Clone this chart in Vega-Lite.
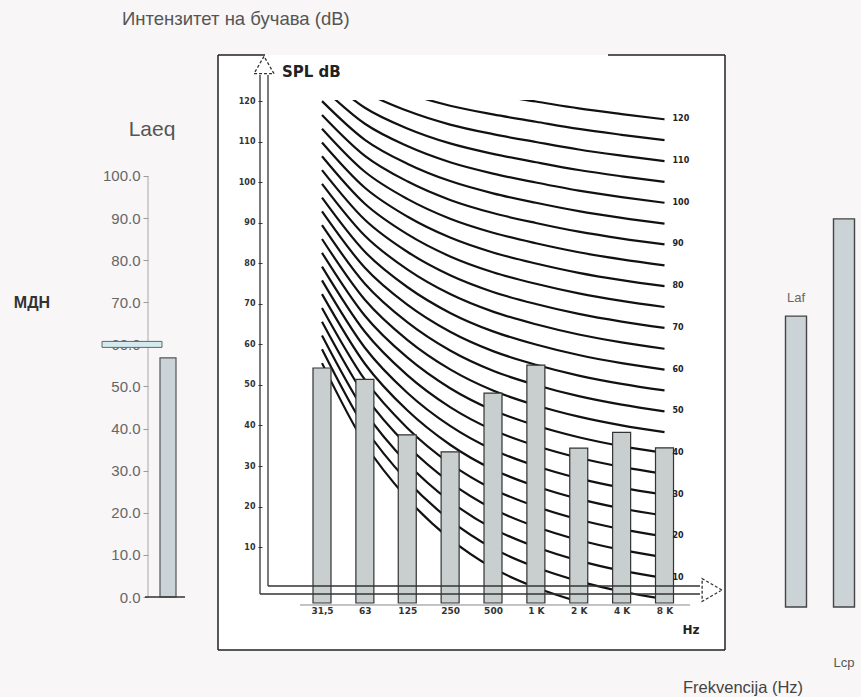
{
"$schema": "https://vega.github.io/schema/vega-lite/v6.json",
"background": "#f8f6f7",
"padding": {"left": 13, "top": 9, "right": 0, "bottom": 0},
"config": {"view": {"stroke": null}, "font": "Liberation Sans", "axis": {"grid": false}},
"spacing": 40,
"bounds": "flush",
"datasets": {
"laeq": [{"metric": "Laeq", "value": 56.8}],
"lc": [{"metric": "Laf", "value": 69.1}, {"metric": "Lcp", "value": 92.2}],
"bars": [{"band":"31,5","hz":31.5,"spl":54.2},{"band":"63","hz":63,"spl":51.4},{"band":"125","hz":125,"spl":37.7},{"band":"250","hz":250,"spl":33.5},{"band":"500","hz":500,"spl":48},{"band":"1 K","hz":1000,"spl":54.9},{"band":"2 K","hz":2000,"spl":34.4},{"band":"4 K","hz":4000,"spl":38.3},{"band":"8 K","hz":8000,"spl":34.5}],
"nr": [
{"nr":0,"hz":31.5,"db":55.4},{"nr":0,"hz":63,"db":35.5},{"nr":0,"hz":125,"db":22},{"nr":0,"hz":250,"db":12},{"nr":0,"hz":500,"db":4.8},{"nr":0,"hz":1000,"db":0},{"nr":0,"hz":2000,"db":-3.5},{"nr":0,"hz":4000,"db":-6.1},{"nr":0,"hz":8000,"db":-8},
{"nr":5,"hz":31.5,"db":58.81},{"nr":5,"hz":63,"db":39.45},{"nr":5,"hz":125,"db":26.35},{"nr":5,"hz":250,"db":16.65},{"nr":5,"hz":500,"db":9.67},{"nr":5,"hz":1000,"db":5},{"nr":5,"hz":2000,"db":1.58},{"nr":5,"hz":4000,"db":-0.98},{"nr":5,"hz":8000,"db":-2.85},
{"nr":10,"hz":31.5,"db":62.21},{"nr":10,"hz":63,"db":43.4},{"nr":10,"hz":125,"db":30.7},{"nr":10,"hz":250,"db":21.3},{"nr":10,"hz":500,"db":14.54},{"nr":10,"hz":1000,"db":10},{"nr":10,"hz":2000,"db":6.65},{"nr":10,"hz":4000,"db":4.15},{"nr":10,"hz":8000,"db":2.3},
{"nr":15,"hz":31.5,"db":65.62},{"nr":15,"hz":63,"db":47.35},{"nr":15,"hz":125,"db":35.05},{"nr":15,"hz":250,"db":25.95},{"nr":15,"hz":500,"db":19.41},{"nr":15,"hz":1000,"db":15},{"nr":15,"hz":2000,"db":11.73},{"nr":15,"hz":4000,"db":9.28},{"nr":15,"hz":8000,"db":7.45},
{"nr":20,"hz":31.5,"db":69.02},{"nr":20,"hz":63,"db":51.3},{"nr":20,"hz":125,"db":39.4},{"nr":20,"hz":250,"db":30.6},{"nr":20,"hz":500,"db":24.28},{"nr":20,"hz":1000,"db":20},{"nr":20,"hz":2000,"db":16.8},{"nr":20,"hz":4000,"db":14.4},{"nr":20,"hz":8000,"db":12.6},
{"nr":25,"hz":31.5,"db":72.43},{"nr":25,"hz":63,"db":55.25},{"nr":25,"hz":125,"db":43.75},{"nr":25,"hz":250,"db":35.25},{"nr":25,"hz":500,"db":29.15},{"nr":25,"hz":1000,"db":25},{"nr":25,"hz":2000,"db":21.88},{"nr":25,"hz":4000,"db":19.53},{"nr":25,"hz":8000,"db":17.75},
{"nr":30,"hz":31.5,"db":75.83},{"nr":30,"hz":63,"db":59.2},{"nr":30,"hz":125,"db":48.1},{"nr":30,"hz":250,"db":39.9},{"nr":30,"hz":500,"db":34.02},{"nr":30,"hz":1000,"db":30},{"nr":30,"hz":2000,"db":26.95},{"nr":30,"hz":4000,"db":24.65},{"nr":30,"hz":8000,"db":22.9},
{"nr":35,"hz":31.5,"db":79.24},{"nr":35,"hz":63,"db":63.15},{"nr":35,"hz":125,"db":52.45},{"nr":35,"hz":250,"db":44.55},{"nr":35,"hz":500,"db":38.89},{"nr":35,"hz":1000,"db":35},{"nr":35,"hz":2000,"db":32.03},{"nr":35,"hz":4000,"db":29.78},{"nr":35,"hz":8000,"db":28.05},
{"nr":40,"hz":31.5,"db":82.64},{"nr":40,"hz":63,"db":67.1},{"nr":40,"hz":125,"db":56.8},{"nr":40,"hz":250,"db":49.2},{"nr":40,"hz":500,"db":43.76},{"nr":40,"hz":1000,"db":40},{"nr":40,"hz":2000,"db":37.1},{"nr":40,"hz":4000,"db":34.9},{"nr":40,"hz":8000,"db":33.2},
{"nr":45,"hz":31.5,"db":86.05},{"nr":45,"hz":63,"db":71.05},{"nr":45,"hz":125,"db":61.15},{"nr":45,"hz":250,"db":53.85},{"nr":45,"hz":500,"db":48.63},{"nr":45,"hz":1000,"db":45},{"nr":45,"hz":2000,"db":42.18},{"nr":45,"hz":4000,"db":40.03},{"nr":45,"hz":8000,"db":38.35},
{"nr":50,"hz":31.5,"db":89.45},{"nr":50,"hz":63,"db":75},{"nr":50,"hz":125,"db":65.5},{"nr":50,"hz":250,"db":58.5},{"nr":50,"hz":500,"db":53.5},{"nr":50,"hz":1000,"db":50},{"nr":50,"hz":2000,"db":47.25},{"nr":50,"hz":4000,"db":45.15},{"nr":50,"hz":8000,"db":43.5},
{"nr":55,"hz":31.5,"db":92.86},{"nr":55,"hz":63,"db":78.95},{"nr":55,"hz":125,"db":69.85},{"nr":55,"hz":250,"db":63.15},{"nr":55,"hz":500,"db":58.37},{"nr":55,"hz":1000,"db":55},{"nr":55,"hz":2000,"db":52.33},{"nr":55,"hz":4000,"db":50.28},{"nr":55,"hz":8000,"db":48.65},
{"nr":60,"hz":31.5,"db":96.26},{"nr":60,"hz":63,"db":82.9},{"nr":60,"hz":125,"db":74.2},{"nr":60,"hz":250,"db":67.8},{"nr":60,"hz":500,"db":63.24},{"nr":60,"hz":1000,"db":60},{"nr":60,"hz":2000,"db":57.4},{"nr":60,"hz":4000,"db":55.4},{"nr":60,"hz":8000,"db":53.8},
{"nr":65,"hz":31.5,"db":99.67},{"nr":65,"hz":63,"db":86.85},{"nr":65,"hz":125,"db":78.55},{"nr":65,"hz":250,"db":72.45},{"nr":65,"hz":500,"db":68.11},{"nr":65,"hz":1000,"db":65},{"nr":65,"hz":2000,"db":62.48},{"nr":65,"hz":4000,"db":60.53},{"nr":65,"hz":8000,"db":58.95},
{"nr":70,"hz":31.5,"db":103.07},{"nr":70,"hz":63,"db":90.8},{"nr":70,"hz":125,"db":82.9},{"nr":70,"hz":250,"db":77.1},{"nr":70,"hz":500,"db":72.98},{"nr":70,"hz":1000,"db":70},{"nr":70,"hz":2000,"db":67.55},{"nr":70,"hz":4000,"db":65.65},{"nr":70,"hz":8000,"db":64.1},
{"nr":75,"hz":31.5,"db":106.48},{"nr":75,"hz":63,"db":94.75},{"nr":75,"hz":125,"db":87.25},{"nr":75,"hz":250,"db":81.75},{"nr":75,"hz":500,"db":77.85},{"nr":75,"hz":1000,"db":75},{"nr":75,"hz":2000,"db":72.63},{"nr":75,"hz":4000,"db":70.78},{"nr":75,"hz":8000,"db":69.25},
{"nr":80,"hz":31.5,"db":109.88},{"nr":80,"hz":63,"db":98.7},{"nr":80,"hz":125,"db":91.6},{"nr":80,"hz":250,"db":86.4},{"nr":80,"hz":500,"db":82.72},{"nr":80,"hz":1000,"db":80},{"nr":80,"hz":2000,"db":77.7},{"nr":80,"hz":4000,"db":75.9},{"nr":80,"hz":8000,"db":74.4},
{"nr":85,"hz":31.5,"db":113.29},{"nr":85,"hz":63,"db":102.65},{"nr":85,"hz":125,"db":95.95},{"nr":85,"hz":250,"db":91.05},{"nr":85,"hz":500,"db":87.59},{"nr":85,"hz":1000,"db":85},{"nr":85,"hz":2000,"db":82.78},{"nr":85,"hz":4000,"db":81.03},{"nr":85,"hz":8000,"db":79.55},
{"nr":90,"hz":31.5,"db":116.69},{"nr":90,"hz":63,"db":106.6},{"nr":90,"hz":125,"db":100.3},{"nr":90,"hz":250,"db":95.7},{"nr":90,"hz":500,"db":92.46},{"nr":90,"hz":1000,"db":90},{"nr":90,"hz":2000,"db":87.85},{"nr":90,"hz":4000,"db":86.15},{"nr":90,"hz":8000,"db":84.7},
{"nr":95,"hz":31.5,"db":120.1},{"nr":95,"hz":63,"db":110.55},{"nr":95,"hz":125,"db":104.65},{"nr":95,"hz":250,"db":100.35},{"nr":95,"hz":500,"db":97.33},{"nr":95,"hz":1000,"db":95},{"nr":95,"hz":2000,"db":92.93},{"nr":95,"hz":4000,"db":91.28},{"nr":95,"hz":8000,"db":89.85},
{"nr":100,"hz":31.5,"db":123.5},{"nr":100,"hz":63,"db":114.5},{"nr":100,"hz":125,"db":109},{"nr":100,"hz":250,"db":105},{"nr":100,"hz":500,"db":102.2},{"nr":100,"hz":1000,"db":100},{"nr":100,"hz":2000,"db":98},{"nr":100,"hz":4000,"db":96.4},{"nr":100,"hz":8000,"db":95},
{"nr":105,"hz":31.5,"db":126.91},{"nr":105,"hz":63,"db":118.45},{"nr":105,"hz":125,"db":113.35},{"nr":105,"hz":250,"db":109.65},{"nr":105,"hz":500,"db":107.07},{"nr":105,"hz":1000,"db":105},{"nr":105,"hz":2000,"db":103.08},{"nr":105,"hz":4000,"db":101.53},{"nr":105,"hz":8000,"db":100.15},
{"nr":110,"hz":31.5,"db":130.31},{"nr":110,"hz":63,"db":122.4},{"nr":110,"hz":125,"db":117.7},{"nr":110,"hz":250,"db":114.3},{"nr":110,"hz":500,"db":111.94},{"nr":110,"hz":1000,"db":110},{"nr":110,"hz":2000,"db":108.15},{"nr":110,"hz":4000,"db":106.65},{"nr":110,"hz":8000,"db":105.3},
{"nr":115,"hz":31.5,"db":133.72},{"nr":115,"hz":63,"db":126.35},{"nr":115,"hz":125,"db":122.05},{"nr":115,"hz":250,"db":118.95},{"nr":115,"hz":500,"db":116.81},{"nr":115,"hz":1000,"db":115},{"nr":115,"hz":2000,"db":113.23},{"nr":115,"hz":4000,"db":111.78},{"nr":115,"hz":8000,"db":110.45},
{"nr":120,"hz":31.5,"db":137.12},{"nr":120,"hz":63,"db":130.3},{"nr":120,"hz":125,"db":126.4},{"nr":120,"hz":250,"db":123.6},{"nr":120,"hz":500,"db":121.68},{"nr":120,"hz":1000,"db":120},{"nr":120,"hz":2000,"db":118.3},{"nr":120,"hz":4000,"db":116.9},{"nr":120,"hz":8000,"db":115.6}
]
},
"hconcat": [
{
"width": 74, "height": 497,
"data": {"name": "laeq"},
"layer": [
{"mark": {"type": "bar", "size": 16, "fill": "#cad3d8", "stroke": "#555", "strokeWidth": 1.2},
 "encoding": {
  "x": {"datum": 5, "type": "quantitative", "scale": {"domain": [0, 18.5], "nice": false, "zero": false, "padding": 0}, "axis": null},
  "y": {"field": "value", "type": "quantitative", "scale": {"domain": [0, 118.05], "nice": false, "zero": false},
        "axis": {"values": [0,10,20,30,40,50,60,70,80,90,100], "format": ".1f", "domain": false, "tickSize": 5, "tickColor": "#999", "labelFontSize": 15, "labelColor": "#666", "labelPadding": 3, "title": null, "zindex": 0}},
  "y2": {"datum": 0}}},
{"mark": {"type": "rule", "color": "#aaa", "strokeWidth": 1},
 "encoding": {"x": {"datum": 0, "type": "quantitative", "axis": null}, "y": {"datum": 0, "type": "quantitative"}, "y2": {"datum": 100}}},
{"mark": {"type": "rule", "color": "#333", "strokeWidth": 1.5},
 "encoding": {"x": {"datum": -0.75, "type": "quantitative", "axis": null}, "x2": {"datum": 9.25}, "y": {"datum": 0, "type": "quantitative"}}},
{"mark": {"type": "tick", "orient": "horizontal", "size": 60, "thickness": 6, "color": "#d3eaf0", "stroke": "#666", "strokeWidth": 1, "opacity": 1},
 "encoding": {"x": {"datum": -4, "type": "quantitative", "axis": null}, "y": {"datum": 60, "type": "quantitative"}}},
{"mark": {"type": "text", "fontSize": 16, "fontWeight": "bold", "color": "#333"},
 "encoding": {"x": {"datum": -29, "type": "quantitative", "axis": null}, "y": {"datum": 69.8, "type": "quantitative"}, "text": {"value": "МДН"}}},
{"mark": {"type": "text", "fontSize": 21, "color": "#555"},
 "encoding": {"x": {"datum": 1, "type": "quantitative", "axis": null}, "y": {"datum": 110.9, "type": "quantitative"}, "text": {"value": "Laeq"}}},
{"mark": {"type": "text", "fontSize": 18.5, "color": "#555", "align": "left"},
 "encoding": {"x": {"datum": -6.5, "type": "quantitative", "axis": null}, "y": {"datum": 137.3, "type": "quantitative"}, "text": {"value": "Интензитет на бучава (dB)"}}}
]
},
{
"width": 470, "height": 503,
"layer": [
{"data": {"values": [{}]}, "mark": {"type": "rect", "fill": "#ffffff"},
 "encoding": {"x": {"datum": 5.863, "type": "quantitative", "scale": {"type": "log", "domain": [11.941, 23821], "nice": false, "padding": 0}}, "x2": {"datum": 21273},
  "y": {"datum": 131.48, "type": "quantitative", "scale": {"domain": [-3.827, 120.37], "nice": false, "zero": false}}, "y2": {"datum": -15.43}}},
{"data": {"name": "nr"}, "mark": {"type": "line", "clip": true, "color": "#111", "strokeWidth": 2.2, "interpolate": "monotone"},
 "encoding": {
  "x": {"field": "hz", "type": "quantitative", "axis": {"values": [31.5,63,125,250,500,1000,2000,4000,8000], "labelExpr": "datum.value == 31.5 ? '31,5' : datum.value >= 1000 ? (datum.value / 1000) + ' K' : datum.value", "ticks": false, "domain": false, "labelFont": "DejaVu Sans", "labelFontWeight": "bold", "labelFontSize": 9, "labelColor": "#333", "labelPadding": 3, "title": null, "labelFlush": false, "labelOverlap": false, "zindex": 1}},
  "y": {"field": "db", "type": "quantitative", "axis": {"values": [10,20,30,40,50,60,70,80,90,100,110,120], "domain": false, "tickSize": 4, "tickColor": "#333", "labelFont": "DejaVu Sans", "labelFontWeight": "bold", "labelFontSize": 8, "labelColor": "#333", "labelPadding": 3, "title": null, "zindex": 1}},
  "detail": {"field": "nr"}}},
{"data": {"name": "bars"}, "mark": {"type": "bar", "size": 18, "fill": "#c9cece", "stroke": "#333", "strokeWidth": 1.2},
 "encoding": {"x": {"field": "hz", "type": "quantitative"}, "y": {"field": "spl", "type": "quantitative"}, "y2": {"datum": -3.827}}},
{"data": {"name": "nr"}, "transform": [{"filter": "datum.hz == 8000 && datum.nr >= 10 && datum.nr % 10 == 0"}],
 "mark": {"type": "text", "align": "left", "dx": 8, "fontSize": 8, "fontWeight": "bold", "font": "DejaVu Sans", "color": "#222"},
 "encoding": {"x": {"field": "hz", "type": "quantitative"}, "y": {"field": "db", "type": "quantitative"}, "text": {"field": "nr", "type": "quantitative"}}},
{"data": {"values": [{}]}, "mark": {"type": "rule", "color": "#222", "strokeWidth": 1.5},
 "encoding": {"x": {"datum": 5.863, "type": "quantitative"}, "y": {"datum": 131.48, "type": "quantitative"}, "y2": {"datum": -15.43}}},
{"data": {"values": [{}]}, "mark": {"type": "rule", "color": "#222", "strokeWidth": 1.5},
 "encoding": {"x": {"datum": 5.863, "type": "quantitative"}, "x2": {"datum": 21273}, "y": {"datum": -15.43, "type": "quantitative"}}},
{"data": {"values": [{}]}, "mark": {"type": "rule", "color": "#222", "strokeWidth": 1.5},
 "encoding": {"x": {"datum": 21273, "type": "quantitative"}, "y": {"datum": 131.48, "type": "quantitative"}, "y2": {"datum": -15.43}}},
{"data": {"values": [{}]}, "mark": {"type": "rule", "color": "#222", "strokeWidth": 1.5},
 "encoding": {"x": {"datum": 5.863, "type": "quantitative"}, "x2": {"datum": 12.535}, "y": {"datum": 131.48, "type": "quantitative"}}},
{"data": {"values": [{}]}, "mark": {"type": "rule", "color": "#222", "strokeWidth": 1.5},
 "encoding": {"x": {"datum": 3209, "type": "quantitative"}, "x2": {"datum": 21273}, "y": {"datum": 131.48, "type": "quantitative"}}},
{"data": {"values": [{}]}, "mark": {"type": "rule", "color": "#333", "strokeWidth": 1.3},
 "encoding": {"x": {"datum": 11.561, "type": "quantitative"}, "y": {"datum": 126.54, "type": "quantitative"}, "y2": {"datum": -1.6}}},
{"data": {"values": [{}]}, "mark": {"type": "rule", "color": "#333", "strokeWidth": 1.3},
 "encoding": {"x": {"datum": 11.561, "type": "quantitative"}, "x2": {"datum": 14200}, "y": {"datum": -1.6, "type": "quantitative"}}},
{"data": {"values": [{}]}, "mark": {"type": "rule", "color": "#333", "strokeWidth": 1.3},
 "encoding": {"x": {"datum": 13.157, "type": "quantitative"}, "y": {"datum": 126.54, "type": "quantitative"}, "y2": {"datum": 0.37}}},
{"data": {"values": [{}]}, "mark": {"type": "rule", "color": "#333", "strokeWidth": 1.3},
 "encoding": {"x": {"datum": 13.157, "type": "quantitative"}, "x2": {"datum": 14200}, "y": {"datum": 0.37, "type": "quantitative"}}},
{"data": {"values": [{}]}, "mark": {"type": "rule", "color": "#888", "strokeWidth": 1},
 "encoding": {"x": {"datum": 22.072, "type": "quantitative"}, "x2": {"datum": 12080}, "y": {"datum": -4.32, "type": "quantitative"}}},
{"data": {"values": [{}]}, "mark": {"type": "point", "shape": "triangle-up", "size": 400, "filled": true, "fill": "#ffffff", "stroke": "#333", "strokeWidth": 1.3, "strokeDash": [3, 2], "opacity": 1},
 "encoding": {"x": {"datum": 12.334, "type": "quantitative"}, "y": {"datum": 129.01, "type": "quantitative"}}},
{"data": {"values": [{}]}, "mark": {"type": "point", "shape": "triangle-right", "size": 520, "filled": true, "fill": "#ffffff", "stroke": "#333", "strokeWidth": 1.3, "strokeDash": [3, 2], "opacity": 1},
 "encoding": {"x": {"datum": 17240, "type": "quantitative"}, "y": {"datum": -0.617, "type": "quantitative"}}},
{"data": {"values": [{}]}, "mark": {"type": "text", "align": "left", "font": "DejaVu Sans", "fontWeight": "bold", "fontSize": 15, "color": "#222"},
 "encoding": {"x": {"datum": 16.5, "type": "quantitative"}, "y": {"datum": 127.28, "type": "quantitative"}, "text": {"value": "SPL dB"}}},
{"data": {"values": [{}]}, "mark": {"type": "text", "font": "DejaVu Sans", "fontWeight": "bold", "fontSize": 12, "color": "#222"},
 "encoding": {"x": {"datum": 12277, "type": "quantitative"}, "y": {"datum": -10.49, "type": "quantitative"}, "text": {"value": "Hz"}}},
{"data": {"values": [{}]}, "mark": {"type": "text", "align": "left", "fontSize": 16.5, "color": "#444"},
 "encoding": {"x": {"datum": 10788, "type": "quantitative"}, "y": {"datum": -24.8, "type": "quantitative"}, "text": {"value": "Frekvencija (Hz)"}}}
]
},
{
"width": 96, "height": 507,
"data": {"name": "lc"},
"layer": [
{"mark": {"type": "bar", "size": 21, "fill": "#ccd3d7", "stroke": "#444", "strokeWidth": 1.4},
 "encoding": {"x": {"field": "metric", "type": "nominal", "scale": {"paddingInner": 0, "paddingOuter": 0}, "axis": null},
  "y": {"field": "value", "type": "quantitative", "scale": {"domain": [0, 120.43], "nice": false, "zero": false}, "axis": null}, "y2": {"datum": 0}}},
{"transform": [{"filter": "datum.metric == 'Laf'"}], "mark": {"type": "text", "dy": -18, "fontSize": 13, "color": "#666"},
 "encoding": {"x": {"field": "metric", "type": "nominal", "axis": null}, "y": {"field": "value", "type": "quantitative", "axis": null}, "text": {"field": "metric"}}},
{"transform": [{"filter": "datum.metric == 'Lcp'"}], "mark": {"type": "text", "fontSize": 13, "color": "#555"},
 "encoding": {"x": {"field": "metric", "type": "nominal", "axis": null}, "y": {"datum": -13.2, "type": "quantitative", "axis": null}, "text": {"field": "metric"}}}
]
}
]
}
